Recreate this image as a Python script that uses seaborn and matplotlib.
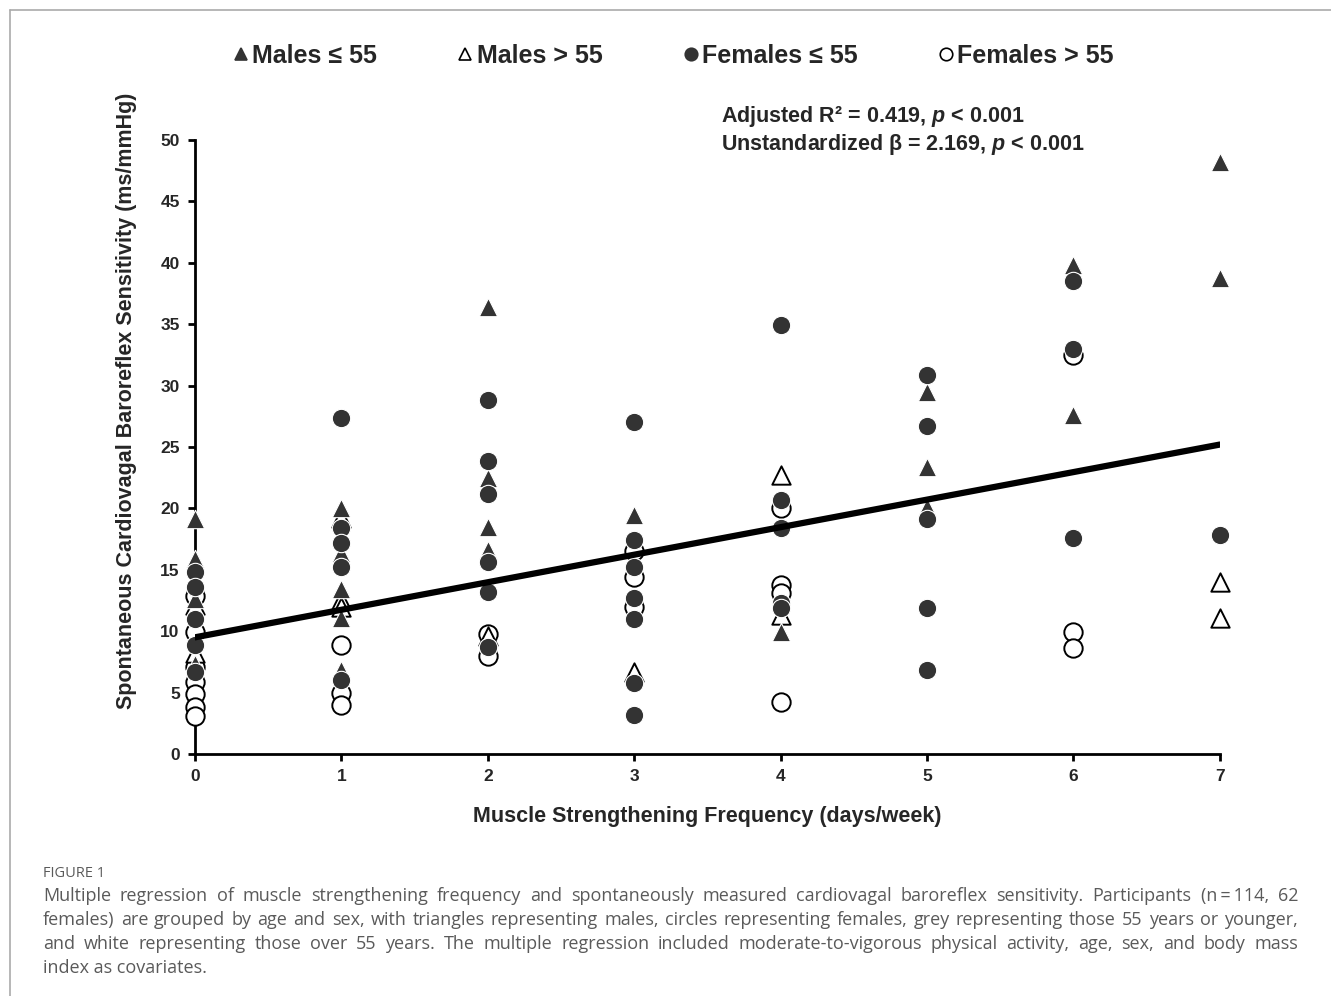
import numpy as np
import pandas as pd
import matplotlib
matplotlib.use("Agg")
import matplotlib.pyplot as plt
from matplotlib.lines import Line2D
import seaborn as sns

# values, one list per group
males_young_x = [0, 0, 0, 0, 1, 1, 1, 1, 1, 2, 2, 2, 2, 3, 4, 5, 5, 5, 6, 6, 7, 7]
males_young_y = [19.1, 15.9, 12.6, 7.3, 20.0, 16.4, 13.4, 11.1, 6.8, 36.4, 22.5, 18.5, 16.6,
                 19.5, 9.9, 29.5, 23.4, 20.1, 39.8, 27.6, 48.2, 38.8]
males_old_x = [0, 0, 1, 1, 1, 2, 3, 4, 4, 7, 7]
males_old_y = [12.1, 8.2, 19.2, 12.5, 12.0, 9.6, 6.7, 22.7, 11.3, 14.0, 11.1]
females_young_x = [0, 0, 0, 0, 0, 1, 1, 1, 1, 1, 2, 2, 2, 2, 2, 2, 3, 3, 3, 3, 3, 3, 3,
                   4, 4, 4, 4, 4, 5, 5, 5, 5, 5, 6, 6, 6, 7]
females_young_y = [14.8, 13.6, 11.0, 8.9, 6.7, 27.4, 18.4, 17.2, 15.2, 6.0, 28.8, 23.9, 21.2,
                   15.6, 13.2, 8.7, 27.0, 17.4, 15.2, 12.7, 11.0, 5.8, 3.2,
                   34.9, 20.7, 18.4, 12.3, 11.9, 30.9, 26.7, 19.1, 11.9, 6.8, 38.5, 33.0, 17.6, 17.8]
females_old_x = [0, 0, 0, 0, 0, 0, 0, 1, 1, 1, 2, 2, 3, 3, 3, 4, 4, 4, 4, 6, 6, 6]
females_old_y = [12.9, 9.9, 7.1, 5.9, 4.9, 3.8, 3.1, 8.9, 5.0, 4.0, 9.8, 8.0,
                 16.5, 14.4, 12.0, 20.0, 13.8, 13.1, 4.2, 32.5, 9.9, 8.6]

line_x = [0, 7]
line_y = [9.5, 25.2]

groups = ["Males \u2264 55", "Males > 55", "Females \u2264 55", "Females > 55"]
frames = []
for g, xs, ys in zip(groups,
                     [males_young_x, males_old_x, females_young_x, females_old_x],
                     [males_young_y, males_old_y, females_young_y, females_old_y]):
    frames.append(pd.DataFrame({"freq": xs, "brs": ys, "group": g}))
df = pd.concat(frames, ignore_index=True)

sns.set_style("white")
plt.rcParams["font.family"] = ["Liberation Sans", "DejaVu Sans"]
plt.rcParams["mathtext.fontset"] = "custom"
plt.rcParams["mathtext.it"] = "Liberation Sans:italic:bold"
plt.rcParams["mathtext.rm"] = "Liberation Sans:bold"

dark = "#333333"
styles = {
    groups[0]: dict(marker="^", color=dark, edgecolor="white", linewidth=0.8),
    groups[1]: dict(marker="^", color="white", edgecolor="black", linewidth=1.4),
    groups[2]: dict(marker="o", color=dark, edgecolor="white", linewidth=0.8),
    groups[3]: dict(marker="o", color="white", edgecolor="black", linewidth=1.4),
}

fig = plt.figure(figsize=(13.31, 9.96), dpi=100)
ax = fig.add_axes([0.1465, 0.243, 0.77, 0.6164])

# open markers underneath, filled ones on top
for g in [groups[3], groups[1], groups[0], groups[2]]:
    sub = df[df.group == g]
    sns.scatterplot(data=sub, x="freq", y="brs", s=175, ax=ax, clip_on=False,
                    zorder=3, legend=False, **styles[g])

sns.lineplot(x=line_x, y=line_y, color="black", linewidth=4.5, ax=ax, zorder=4)

ax.set_xlim(0, 7)
ax.set_ylim(0, 50)
ax.set_xticks(range(8))
ax.set_yticks(range(0, 51, 5))
for sp in ["top", "right"]:
    ax.spines[sp].set_visible(False)
for sp in ["left", "bottom"]:
    ax.spines[sp].set_linewidth(2)
    ax.spines[sp].set_color("black")
ax.tick_params(axis="both", direction="out", length=5, width=2, color="black",
               labelsize=12.5, pad=6, left=True, bottom=True)
for lab in ax.get_xticklabels() + ax.get_yticklabels():
    lab.set_fontweight("bold")
ax.set_xlabel("Muscle Strengthening Frequency (days/week)", fontsize=15.5,
              fontweight="bold", labelpad=16)
ax.set_ylabel("Spontaneous Cardiovagal Baroreflex Sensitivity (ms/mmHg)", fontsize=15.5,
              fontweight="bold")
ax.yaxis.set_label_coords(-0.057, 0.575)

fig.text(721 / 1331, 1 - 104 / 996,
         "Adjusted R\u00b2 = 0.419, $p$ < 0.001\nUnstandardized \u03b2 = 2.169, $p$ < 0.001",
         fontsize=15.5, fontweight="bold", ha="left", va="top", linespacing=1.15)

handles = []
for g in groups:
    st = styles[g]
    handles.append(Line2D([], [], linestyle="none", marker=st["marker"], markersize=9,
                          markerfacecolor=st["color"],
                          markeredgecolor="black" if st["color"] == "white" else dark,
                          markeredgewidth=1.2, label=g))
fig.legend(handles=handles, loc="center", bbox_to_anchor=(0.5064, 0.944), ncol=4,
           frameon=False, handlelength=0.5, handletextpad=0.2, columnspacing=3.28,
           prop={"size": 18, "weight": "bold"})

# figure frame lines (top and left)
fig.add_artist(Line2D([10 / 1331, 1], [1 - 10 / 996, 1 - 10 / 996], color="#aaaaaa",
                      linewidth=1.2, transform=fig.transFigure))
fig.add_artist(Line2D([10 / 1331, 10 / 1331], [0, 1 - 10 / 996], color="#aaaaaa",
                      linewidth=1.2, transform=fig.transFigure))

cap_font = ["Open Sans", "DejaVu Sans"]
cap_color = "#5a5a5a"
fig.text(43 / 1331, 1 - 873 / 996, "FIGURE 1", fontsize=10.5, color=cap_color,
         family=cap_font, va="center")
caption = [
    "Multiple regression of muscle strengthening frequency and spontaneously measured cardiovagal baroreflex sensitivity. Participants (n\u2009=\u2009114, 62",
    "females) are grouped by age and sex, with triangles representing males, circles representing females, grey representing those 55 years or younger,",
    "and white representing those over 55 years. The multiple regression included moderate-to-vigorous physical activity, age, sex, and body mass",
    "index as covariates.",
]
renderer = fig.canvas.get_renderer()
left_px, right_px = 43, 1298
for i, line in enumerate(caption):
    ypos = 1 - (896 + 24 * i) / 996
    words = line.split(" ")
    if i == len(caption) - 1:
        fig.text(left_px / 1331, ypos, line, fontsize=13, color=cap_color,
                 family=cap_font, va="center")
        continue
    # justify the line by spreading the words
    texts = [fig.text(0, ypos, w, fontsize=13, color=cap_color, family=cap_font,
                      va="center") for w in words]
    widths = [t.get_window_extent(renderer).width for t in texts]
    gap = (right_px - left_px - sum(widths)) / (len(words) - 1)
    x = left_px
    for t, w in zip(texts, widths):
        t.set_x(x / 1331)
        x += w + gap

fig.savefig("out.png", dpi=100)
